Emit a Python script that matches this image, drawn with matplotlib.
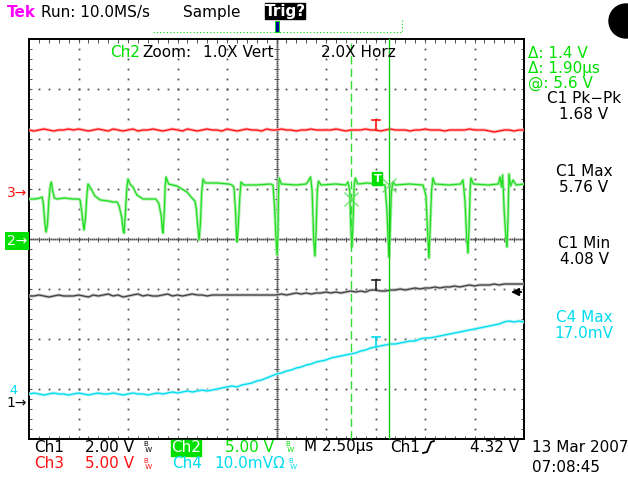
import matplotlib.pyplot as plt
from matplotlib.patches import Rectangle, Circle
import numpy as np

W, H = 628, 478

# scope settings
t_div = 2.5                                   # µs per division
ch1_scale, ch2_scale, ch3_scale, ch4_scale = 2.0, 5.0, 5.0, 10.0   # V/div (Ch4 mV/div)
ch1_gnd, ch2_gnd, ch3_gnd, ch4_gnd = -3.22, -0.04, 0.92, -3.06     # ground marker, div from centre
trig_level = 4.32                             # V on Ch1
trig_time = 17.53                             # µs
cursor_t = [16.28, 18.18]                     # µs
cursor_v = [4.2, 5.6]                         # V on Ch2
c1_max, c1_min = 5.76, 4.08
c4_max = 17.0

sample_dt = 0.25   # µs between stored points of Ch1/Ch3/Ch4

ch3 = [6.3, 6.2, 6.3, 6.4, 6.3, 6.2, 6.3, 6.3, 6.4, 6.3,
       6.4, 6.3, 6.2, 6.3, 6.4, 6.3, 6.2, 6.4, 6.3, 6.2,
       6.3, 6.4, 6.2, 6.3, 6.3, 6.4, 6.3, 6.2, 6.3, 6.4,
       6.3, 6.2, 6.4, 6.3, 6.2, 6.3, 6.4, 6.3, 6.3, 6.2,
       6.4, 6.3, 6.2, 6.3, 6.4, 6.3, 6.3, 6.2, 6.4, 6.3,
       6.3, 6.4, 6.3, 6.3, 6.2, 6.3, 6.3, 6.4, 6.3, 6.3,
       6.3, 6.3, 6.4, 6.3, 6.2, 6.3, 6.3, 6.3, 6.4, 6.3,
       6.3, 6.2, 6.3, 6.4, 6.3, 6.3, 6.3, 6.2, 6.3, 6.3,
       6.4, 6.3, 6.3, 6.3, 6.2, 6.3, 6.3, 6.3, 6.3, 6.4,
       6.3, 6.3, 6.3, 6.2, 6.1, 6.2, 6.3, 6.3, 6.2, 6.3,
       6.3]

ch1 = [4.16, 4.16, 4.20, 4.16, 4.12, 4.16, 4.20, 4.16, 4.16, 4.16,
       4.20, 4.16, 4.12, 4.20, 4.16, 4.20, 4.24, 4.16, 4.20, 4.12,
       4.16, 4.20, 4.24, 4.16, 4.20, 4.16, 4.16, 4.20, 4.24, 4.16,
       4.20, 4.16, 4.20, 4.24, 4.20, 4.20, 4.16, 4.20, 4.20, 4.20,
       4.20, 4.20, 4.20, 4.20, 4.20, 4.20, 4.20, 4.20, 4.20, 4.20,
       4.20, 4.24, 4.20, 4.24, 4.28, 4.24, 4.28, 4.24, 4.28, 4.28,
       4.32, 4.28, 4.32, 4.28, 4.32, 4.36, 4.32, 4.36, 4.32, 4.40,
       4.40, 4.36, 4.36, 4.40, 4.40, 4.44, 4.40, 4.44, 4.48, 4.44,
       4.48, 4.48, 4.52, 4.48, 4.52, 4.52, 4.56, 4.52, 4.56, 4.60,
       4.56, 4.60, 4.60, 4.60, 4.64, 4.60, 4.64, 4.64, 4.64, 4.64,
       4.64]

ch4 = [-0.4, -0.2, -0.4, -0.6, -0.4, -0.2, -0.4, -0.4, -0.6, -0.4,
       -0.2, -0.4, -0.6, -0.4, -0.2, -0.4, -0.4, -0.2, -0.4, -0.6,
       -0.4, -0.2, -0.4, -0.4, -0.6, -0.4, -0.2, -0.4, -0.2, 0.0,
       -0.2, 0.0, 0.2, 0.0, 0.2, 0.4, 0.2, 0.4, 0.6, 0.8,
       1.0, 1.2, 1.0, 1.4, 1.6, 1.8, 2.2, 2.4, 2.8, 3.2,
       3.6, 3.8, 4.2, 4.4, 4.8, 5.0, 5.4, 5.6, 6.0, 6.2,
       6.4, 6.8, 7.0, 7.2, 7.4, 7.6, 7.8, 8.2, 8.4, 8.8,
       9.0, 9.2, 9.4, 9.6, 9.6, 9.8, 10.0, 10.2, 10.2, 10.6,
       10.8, 10.8, 11.0, 11.2, 11.4, 11.6, 11.8, 12.0, 12.2, 12.4,
       12.6, 12.8, 13.0, 13.2, 13.4, 13.6, 14.0, 14.2, 14.0, 14.2,
       14.0]

# Ch2 is stored as breakpoints (µs, V) because of the narrow spikes
ch2_t = [0.00, 0.30, 0.55, 0.66, 0.72, 0.80, 0.86, 0.93, 1.00, 1.08, 1.13, 1.20, 1.28, 1.40, 1.80, 2.20, 2.50,
         2.58, 2.66, 2.74, 2.78, 2.85, 2.92, 2.98, 3.08, 3.33, 3.60, 4.00, 4.24, 4.45, 4.55,
         4.68, 4.76, 4.80, 4.86, 4.94, 5.00, 5.10, 5.25, 5.45, 5.76, 6.10, 6.40, 6.55,
         6.68, 6.74, 6.77, 6.83, 6.88, 6.92, 7.05, 7.47, 7.98, 8.23, 8.38, 8.45,
         8.52, 8.59, 8.66, 8.72, 8.79, 8.90, 9.50, 10.10, 10.25, 10.35,
         10.43, 10.48, 10.51, 10.57, 10.65, 10.71, 10.85, 11.50, 12.20, 12.32,
         12.40, 12.48, 12.53, 12.57, 12.60, 12.63, 12.75, 13.50, 14.00, 14.10,
         14.22, 14.30, 14.38, 14.44, 14.50, 14.56, 14.62, 14.75, 15.50, 16.00, 16.11,
         16.20, 16.26, 16.31, 16.37, 16.42, 16.48, 16.60, 17.10, 17.50, 17.98,
         18.08, 18.14, 18.18, 18.24, 18.30, 18.38, 18.50, 19.20, 19.90,
         20.05, 20.14, 20.20, 20.26, 20.33, 20.40, 20.50, 21.20, 21.80, 21.92,
         22.02, 22.10, 22.17, 22.23, 22.28, 22.32, 22.45, 23.20, 23.70, 23.79, 23.86, 23.92,
         24.00, 24.08, 24.14, 24.19, 24.24, 24.32, 24.45, 24.60, 25.00]
ch2_v = [4.2, 4.2, 4.3, 4.4, 3.8, 1.8, 0.9, 1.6, 4.0, 5.6, 5.9, 5.0, 4.3, 4.2, 4.3, 4.2, 4.2,
         4.1, 3.0, 1.6, 1.1, 2.2, 4.5, 5.7, 5.4, 4.5, 4.1, 4.0, 3.9, 3.9, 3.5,
         2.4, 1.0, 0.8, 2.5, 5.3, 6.2, 5.7, 5.4, 4.6, 4.2, 4.2, 4.2, 3.8,
         2.5, 1.0, 0.8, 2.8, 5.6, 6.4, 5.7, 5.5, 4.9, 4.3, 4.0, 3.2,
         1.5, 0.1, 1.8, 4.8, 6.2, 5.8, 5.8, 5.7, 5.6, 5.4,
         3.0, 0.5, -0.1, 1.5, 4.5, 5.9, 5.6, 5.6, 5.7, 5.6,
         3.5, 0.0, -1.4, 0.5, 4.5, 6.3, 5.7, 5.6, 5.7, 6.0,
         6.4, 5.0, 0.0, -1.5, 1.0, 5.0, 6.0, 5.6, 5.7, 5.6, 5.9,
         5.0, 1.0, -0.6, 2.0, 5.5, 6.3, 5.7, 5.8, 5.7, 5.6,
         3.0, 0.0, -1.6, 1.0, 4.8, 5.9, 5.6, 5.7, 5.6,
         4.5, 0.5, -1.7, 1.2, 5.0, 6.3, 5.7, 5.6, 5.7, 6.1,
         4.0, 0.5, -1.2, 1.5, 5.2, 6.3, 5.7, 5.6, 5.7, 6.4, 5.4, 6.6,
         3.0, 0.5, -0.6, 2.0, 6.7, 5.5, 6.1, 5.6, 5.7]

GREEN = '#00e000'
RED = '#ff1010'
CYAN = '#00dcf0'
GRID = '#505050'

fig = plt.figure(figsize=(W / 100, H / 100), dpi=100)
fig.patch.set_facecolor('white')


def pix_rect(x0, y0, x1, y1):
    return [x0 / W, 1 - y1 / H, (x1 - x0) / W, (y1 - y0) / H]


# graticule area: 10 x 8 divisions
ax = fig.add_axes(pix_rect(29, 39, 524, 439))
ax.set_xlim(0, 10 * t_div)
ax.set_ylim(-4, 4)
ax.set_xticks([])
ax.set_yticks([])
for s in ax.spines.values():
    s.set_linewidth(1.4)
    s.set_color('black')

# overlay in pixel units for the readouts
ov = fig.add_axes([0, 0, 1, 1], facecolor='none')
ov.set_xlim(0, W)
ov.set_ylim(H, 0)
ov.axis('off')

# --- graticule ---
dot = dict(marker='s', ms=1.3, mew=0, ls='none', color=GRID, zorder=1)
ys = np.arange(-4, 4.001, 0.2)
xs = np.arange(0, 10.001, 0.2) * t_div
for i in range(1, 10):
    if i != 5:
        ax.plot(np.full_like(ys, i * t_div), ys, **dot)
for j in range(-3, 4):
    if j != 0:
        ax.plot(xs, np.full_like(xs, j), **dot)
fy = np.arange(-4, 4.001, 0.04)
fx = np.arange(0, 25.001, 0.1)
ax.plot(np.full_like(fy, 12.5), fy, **dot)
ax.plot(fx, np.zeros_like(fx), **dot)
ax.hlines(ys, 12.5 - 0.12, 12.5 + 0.12, color=GRID, lw=0.7, zorder=1)
ax.vlines(xs, -0.05, 0.05, color=GRID, lw=0.7, zorder=1)
# edge ticks
ax.vlines(xs, 3.93, 4, color=GRID, lw=0.7)
ax.vlines(xs, -4, -3.93, color=GRID, lw=0.7)
ax.hlines(ys, 0, 0.17, color=GRID, lw=0.7)
ax.hlines(ys, 25 - 0.17, 25, color=GRID, lw=0.7)

# --- waveforms ---
t = np.arange(len(ch1)) * sample_dt
y1 = ch1_gnd + np.array(ch1) / ch1_scale
y2 = ch2_gnd + np.array(ch2_v) / ch2_scale
y3 = ch3_gnd + np.array(ch3) / ch3_scale
y4 = ch4_gnd + np.array(ch4) / ch4_scale


def trace(x, y, color, halo):
    ax.plot(x, y, color=halo, lw=2.2, zorder=3, solid_joinstyle='round')
    ax.plot(x, y, color=color, lw=0.9, zorder=4)


trace(t, y3, RED, '#ffb0b0')
trace(ch2_t, y2, '#22dd22', '#b0f0b0')
trace(t, y1, '#404040', '#c0c0c0')
trace(t, y4, CYAN, '#b0f4fa')

# T markers at the trigger point on each trace
for x, y, col in [(t, y3, RED), (t, y1, '#202020'), (t, y4, CYAN)]:
    y0 = np.interp(trig_time, x, y)
    ax.plot([trig_time, trig_time], [y0, y0 + 0.2], color=col, lw=1.2, zorder=5)
    ax.plot([trig_time - 0.2, trig_time + 0.2], [y0 + 0.2, y0 + 0.2], color=col, lw=1.2, zorder=5)
g0 = np.interp(trig_time, ch2_t, y2)
ax.add_patch(Rectangle((trig_time - 0.2, g0 - 0.02), 0.52, 0.27, color=GREEN, zorder=5))
ax.text(trig_time + 0.06, g0 + 0.11, 'T', color='white', fontsize=8, fontweight='bold',
        ha='center', va='center', zorder=6)

# cursors
ax.axvline(cursor_t[0], color='#33dd33', lw=1.0, ls=(0, (6, 3)), zorder=6)
ax.axvline(cursor_t[1], color='#11cc11', lw=1.0, zorder=6)
ax.plot(cursor_t, ch2_gnd + np.array(cursor_v) / ch2_scale, 'x', ms=10, mew=0.9,
        color='#66e066', zorder=7)

# Ch1 trigger level arrow
lvl = ch1_gnd + trig_level / ch1_scale
ax.annotate('', xy=(24.2, lvl), xytext=(25.0, lvl),
            arrowprops=dict(arrowstyle='-|>', color='black', lw=1.4, mutation_scale=11))

# ground markers on the left
ax.text(-0.1, ch3_gnd, '3\u2192', color=RED, fontsize=10, ha='right', va='center', clip_on=False)
ax.text(-0.1, ch2_gnd, '2\u2192', color='white', fontsize=10, ha='right', va='center',
        clip_on=False, bbox=dict(boxstyle='square,pad=0.12', fc=GREEN, ec='none'))
ax.text(-0.6, ch4_gnd + 0.04, '4', color=CYAN, fontsize=9, ha='right', va='center', clip_on=False)
ax.text(-0.1, ch1_gnd - 0.06, '1\u2192', color='black', fontsize=10, ha='right', va='center',
        clip_on=False)


# --- readouts ---
def txt(x, y, s, color='black', ha='left', size=11, **kw):
    ov.text(x, y, s, color=color, ha=ha, va='center', fontsize=size, **kw)


def bw(x, y, color='black'):
    ov.text(x, y, 'B\n W', color=color, ha='left', va='center', fontsize=5,
            linespacing=0.9)


# top row
txt(7, 12, 'Tek', '#ff00ff', fontweight='bold')
txt(41, 12, 'Run: 10.0MS/s')
txt(183, 12, 'Sample')
ov.add_patch(Rectangle((265, 3), 40, 16, color='black'))
txt(285, 11, 'Trig?', 'white', ha='center', fontweight='bold')
ov.plot([153, 402], [32, 32], color=GREEN, lw=0.8, ls=(0, (1, 2)))
ov.plot([402, 402], [20, 32], color=GREEN, lw=0.8, ls=(0, (1, 2)))
ov.add_patch(Rectangle((275, 21), 4, 11, fc='#0000a0', ec=GREEN, lw=0.6))
ov.add_patch(Circle((626, 21), 17, color='black'))

# zoom line
txt(110, 52, 'Ch2', GREEN)
txt(142, 52, 'Zoom:')
txt(203, 52, '1.0X Vert')
txt(321, 52, '2.0X Horz')

# right-hand panel
txt(528, 53, f'\u0394: {cursor_v[1] - cursor_v[0]:.1f} V', GREEN)
txt(528, 68, f'\u0394: {cursor_t[1] - cursor_t[0]:.2f}\u00b5s', GREEN)
txt(528, 83, f'@: {cursor_v[1]:.1f} V', GREEN)
txt(584, 98, 'C1 Pk\u2212Pk', ha='center')
txt(584, 114, f'{c1_max - c1_min:.2f} V', ha='center')
txt(584, 172, 'C1 Max', ha='center')
txt(584, 188, f'{c1_max:.2f} V', ha='center')
txt(584, 243, 'C1 Min', ha='center')
txt(584, 259, f'{c1_min:.2f} V', ha='center')
txt(584, 317, 'C4 Max', CYAN, ha='center')
txt(584, 333, f'{c4_max:.1f}mV', CYAN, ha='center')

# bottom status lines
txt(34, 447, 'Ch1')
txt(134, 447, f'{ch1_scale:.2f} V', ha='right')
bw(143, 447)
ov.add_patch(Rectangle((171, 440), 30, 16, color=GREEN))
txt(186, 448, 'Ch2', 'white', ha='center')
txt(274, 447, f'{ch2_scale:.2f} V', GREEN, ha='right')
bw(285, 447, GREEN)
txt(304, 447, f'M {t_div:.2f}\u00b5s')
txt(390, 447, 'Ch1')
ov.plot([423, 427, 431, 434], [453, 452, 442, 441], color='black', lw=1.3)
txt(519, 447, f'{trig_level:.2f} V', ha='right')

txt(34, 464, 'Ch3', RED)
txt(134, 464, f'{ch3_scale:.2f} V', RED, ha='right')
bw(143, 464, RED)
txt(172, 464, 'Ch4', CYAN)
txt(214, 464, f'{ch4_scale:.1f}mV\u03a9', CYAN)
bw(288, 464, CYAN)

txt(532, 447, '13 Mar 2007')
txt(532, 468, '07:08:45')

fig.savefig('out.png', dpi=100, facecolor='white')
